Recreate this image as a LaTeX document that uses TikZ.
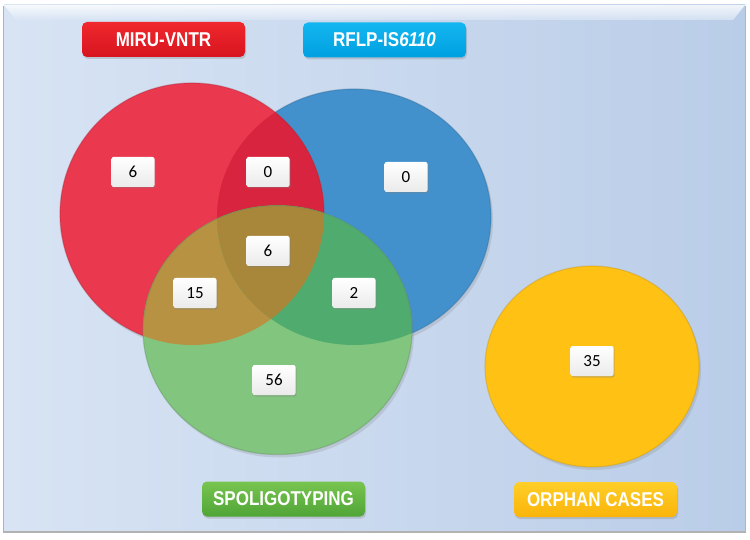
\documentclass[tikz,border=0pt]{standalone}
\usepackage{fontspec}
\setmainfont{Liberation Sans}
\newfontfamily\numfont{Carlito}
\usetikzlibrary{shadows}
\definecolor{redc}{RGB}{234,56,78}
\definecolor{bluec}{RGB}{66,145,204}
\definecolor{rbc}{RGB}{216,36,62}
\definecolor{greenc}{RGB}{130,197,126}
\definecolor{grc}{RGB}{182,146,66}
\definecolor{gbc}{RGB}{80,172,110}
\definecolor{allc}{RGB}{168,134,58}
\definecolor{orangec}{RGB}{255,193,20}
\definecolor{bgl}{RGB}{216,228,244}
\definecolor{bgr}{RGB}{186,205,232}
\definecolor{lblred}{RGB}{240,40,46}
\definecolor{lblredd}{RGB}{215,20,30}
\definecolor{lblcyan}{RGB}{20,182,240}
\definecolor{lblcyand}{RGB}{0,160,225}
\definecolor{lblgreen}{RGB}{120,196,80}
\definecolor{lblgreend}{RGB}{80,165,55}
\definecolor{lblorange}{RGB}{255,206,40}
\definecolor{lblorangeb}{RGB}{250,180,10}
\tikzset{
  numbox/.style={minimum width=43, minimum height=30, rounded corners=2pt,
    top color=white, bottom color=black!8, inner sep=0pt,
    drop shadow={opacity=0.35, shadow xshift=1.2pt, shadow yshift=-1.5pt},
    font=\numfont\fontsize{17}{17}\selectfont},
  lblbox/.style={minimum width=163, minimum height=35, rounded corners=5pt,
    inner sep=0pt, text=white,
    drop shadow={opacity=0.3, shadow xshift=1pt, shadow yshift=-2pt},
    font=\bfseries\fontsize{20}{20}\selectfont},
  cshadow/.style={drop shadow={opacity=0.22, shadow xshift=2pt, shadow yshift=-3pt}},
  rim/.style={draw=#1, draw opacity=0.35, line width=1.2}
}
\begin{document}
\begin{tikzpicture}[x=1pt,y=-1pt]
\useasboundingbox (0,0) rectangle (750,540);
\fill[white] (0,0) rectangle (750,540);
\fill[black!30] (3,6) rectangle (746,533);
\shade[left color=bgl, right color=bgr] (4,5) rectangle (745,530);
\shade[top color=white, bottom color=bgl, opacity=0.8] (4,5) -- (745,5) -- (733,20) -- (16,20) -- cycle;
% circles
\fill[bluec, cshadow] (354,217) ellipse [x radius=137, y radius=128];
\draw[rim=bluec!70!black] (354,217) ellipse [x radius=137, y radius=128];
\fill[redc, cshadow] (192,214) ellipse [x radius=132, y radius=131];
\begin{scope}
  \clip (192,214) ellipse [x radius=132, y radius=131];
  \fill[rbc] (354,217) ellipse [x radius=137, y radius=128];
\end{scope}
\draw[rim=redc!70!black] (192,214) ellipse [x radius=132, y radius=131];
\fill[greenc, cshadow] (277.5,330) ellipse [x radius=134.5, y radius=124.5];
\begin{scope}
  \clip (277.5,330) ellipse [x radius=134.5, y radius=124.5];
  \fill[grc] (192,214) ellipse [x radius=132, y radius=131];
  \fill[gbc] (354,217) ellipse [x radius=137, y radius=128];
  \clip (192,214) ellipse [x radius=132, y radius=131];
  \fill[allc] (354,217) ellipse [x radius=137, y radius=128];
\end{scope}
\draw[rim=greenc!70!black] (277.5,330) ellipse [x radius=134.5, y radius=124.5];
\fill[orangec, cshadow] (592,366.5) ellipse [x radius=107, y radius=100.5];
\draw[rim=orangec!75!black] (592,366.5) ellipse [x radius=107, y radius=100.5];
% labels
\node[lblbox, top color=lblred, bottom color=lblredd] (miru) at (163.5,39.5) {\scalebox{0.85}[1]{MIRU-VNTR}};
\node[lblbox, top color=lblcyan, bottom color=lblcyand] (rflp) at (384.5,40) {\scalebox{0.85}[1]{RFLP-IS\textit{6110}}};
\node[lblbox, top color=lblgreen, bottom color=lblgreend] (spol) at (283.5,499) {\scalebox{0.85}[1]{SPOLIGOTYPING}};
\node[lblbox, top color=lblorange, bottom color=lblorangeb] (orph) at (595.5,499.5) {\scalebox{0.85}[1]{ORPHAN CASES}};
% numbers
\node[numbox] (nr) at (133,172) {6};
\node[numbox] (nrb) at (268,172) {0};
\node[numbox] (nb) at (406,177) {0};
\node[numbox] (nall) at (268,251) {6};
\node[numbox] (nrg) at (195,293) {15};
\node[numbox] (nbg) at (354,293) {2};
\node[numbox] (ng) at (274,380) {56};
\node[numbox] (no) at (592,361) {35};
\end{tikzpicture}
\end{document}
